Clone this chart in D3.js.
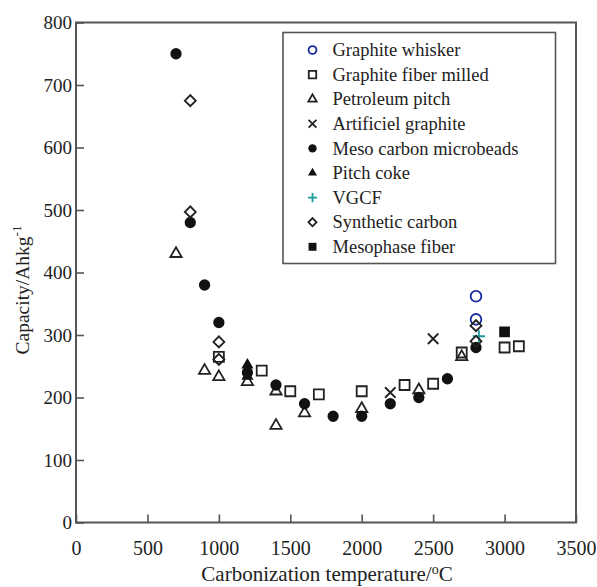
<!DOCTYPE html>
<html>
<head>
<meta charset="utf-8">
<script src="https://cdn.jsdelivr.net/npm/d3@7"></script>
<style>
  body { margin: 0; background: #fff; }
  svg text { font-family: "Liberation Serif", "Times New Roman", Times, "DejaVu Serif", serif; fill: #222; }
</style>
</head>
<body>
<div id="chart"></div>
<script>
// values: [temperature C, capacity Ah/kg]
const graphiteWhisker = [[2800, 362], [2800, 325]];
const graphiteFiberMilled = [[1000, 265], [1300, 243], [1500, 210], [1700, 205], [2000, 210],
  [2300, 220], [2500, 222], [2700, 272], [3000, 280], [3100, 282]];
const petroleumPitch = [[700, 430], [900, 243], [1000, 233], [1200, 225], [1400, 210], [1400, 155],
  [1600, 175], [2000, 182], [2400, 212], [2700, 265]];
const artificielGraphite = [[2200, 208], [2500, 294]];
const mesoCarbon = [[700, 750], [800, 480], [900, 380], [1000, 320], [1200, 240], [1400, 220],
  [1600, 190], [1800, 170], [2000, 170], [2200, 190], [2400, 200], [2600, 230], [2800, 280]];
const pitchCoke = [[1200, 252], [1200, 234]];
const vgcf = [[2820, 298]];
const syntheticCarbon = [[800, 675], [800, 497], [1000, 289], [1000, 261], [2800, 315], [2800, 290]];
const mesophaseFiber = [[3000, 305]];

const xTicks = [0, 500, 1000, 1500, 2000, 2500, 3000, 3500];
const yTicks = [0, 100, 200, 300, 400, 500, 600, 700, 800];

const serif = '"Liberation Serif", "Times New Roman", Times, "DejaVu Serif", serif';

const margin = { top: 22.5, right: 21, bottom: 64.5, left: 76 };
const width = 597 - margin.left - margin.right,
      height = 587 - margin.top - margin.bottom;

// extra symbol types drawn as strokes
const symTimes = {
  draw(ctx, size) {
    const r = Math.sqrt(size) / 2;
    ctx.moveTo(-r, -r); ctx.lineTo(r, r);
    ctx.moveTo(r, -r); ctx.lineTo(-r, r);
  }
};
const symPlus = {
  draw(ctx, size) {
    const r = Math.sqrt(size) / 2;
    ctx.moveTo(-r, 0); ctx.lineTo(r, 0);
    ctx.moveTo(0, -r); ctx.lineTo(0, r);
  }
};

const series = [
  { name: 'Graphite whisker', data: graphiteWhisker, type: d3.symbolCircle, size: 90, fill: 'none', stroke: '#1d2a9c', rot: 0 },
  { name: 'Graphite fiber milled', data: graphiteFiberMilled, type: d3.symbolSquare, size: 100, fill: 'none', stroke: '#222', rot: 0 },
  { name: 'Petroleum pitch', data: petroleumPitch, type: d3.symbolTriangle, size: 55, fill: 'none', stroke: '#222', rot: 0 },
  { name: 'Artificiel graphite', data: artificielGraphite, type: symTimes, size: 110, fill: 'none', stroke: '#222', rot: 0 },
  { name: 'Meso carbon microbeads', data: mesoCarbon, type: d3.symbolCircle, size: 100, fill: '#111', stroke: 'none', rot: 0 },
  { name: 'Pitch coke', data: pitchCoke, type: d3.symbolTriangle, size: 65, fill: '#111', stroke: 'none', rot: 0 },
  { name: 'VGCF', data: vgcf, type: symPlus, size: 150, fill: 'none', stroke: '#1a9a9c', rot: 0 },
  { name: 'Synthetic carbon', data: syntheticCarbon, type: d3.symbolSquare, size: 60, fill: 'none', stroke: '#222', rot: 45 },
  { name: 'Mesophase fiber', data: mesophaseFiber, type: d3.symbolSquare, size: 115, fill: '#111', stroke: 'none', rot: 0 }
];

const xScale = d3.scaleLinear().domain([0, 3500]).range([0, width]);
const yScale = d3.scaleLinear().domain([0, 800]).range([height, 0]);

const svg = d3.select('#chart').append('svg')
  .attr('width', 597)
  .attr('height', 587);

const g = svg.append('g')
  .attr('transform', 'translate(' + margin.left + ',' + margin.top + ')');

const xAxis = d3.axisBottom(xScale).tickValues(xTicks).tickFormat(d3.format('d'))
  .tickSizeInner(-8).tickSizeOuter(0).tickPadding(18);
const yAxis = d3.axisLeft(yScale).tickValues(yTicks).tickFormat(d3.format('d'))
  .tickSizeInner(-8).tickSizeOuter(0).tickPadding(4);

g.append('g')
  .attr('transform', 'translate(0,' + height + ')')
  .call(xAxis)
  .call(a => a.select('.domain').remove())
  .call(a => a.selectAll('line').attr('stroke', '#555').attr('stroke-width', 1.6))
  .call(a => a.selectAll('text').attr('font-size', 20).attr('fill', '#222').attr('font-family', serif));

g.append('g')
  .call(yAxis)
  .call(a => a.select('.domain').remove())
  .call(a => a.selectAll('line').attr('stroke', '#555').attr('stroke-width', 1.6))
  .call(a => a.selectAll('text').attr('font-size', 19).attr('fill', '#222').attr('font-family', serif));

// plot frame
g.append('rect')
  .attr('width', width)
  .attr('height', height)
  .attr('fill', 'none')
  .attr('stroke', '#555')
  .attr('stroke-width', 2);

// markers
series.forEach(s => {
  const sym = d3.symbol().type(s.type).size(s.size);
  g.append('g').selectAll('path').data(s.data)
    .enter().append('path')
      .attr('d', sym)
      .attr('transform', d => 'translate(' + xScale(d[0]) + ',' + yScale(d[1]) + ') rotate(' + s.rot + ')')
      .attr('fill', s.fill)
      .attr('stroke', s.stroke)
      .attr('stroke-width', s.stroke === 'none' ? 0 : 1.8);
});

// legend
const legend = svg.append('g').attr('transform', 'translate(283,32.5)');
legend.append('rect')
  .attr('width', 272.5)
  .attr('height', 231)
  .attr('fill', '#fff')
  .attr('stroke', '#555')
  .attr('stroke-width', 1.6);

const rows = legend.selectAll('g.row').data(series)
  .enter().append('g')
    .attr('class', 'row')
    .attr('transform', (d, i) => 'translate(0,' + (17.5 + i * 24.6) + ')');

rows.append('path')
  .attr('d', d => d3.symbol().type(d.type).size(d.size * 0.55)())
  .attr('transform', d => 'translate(29.5,0) rotate(' + d.rot + ')')
  .attr('fill', d => d.fill)
  .attr('stroke', d => d.stroke)
  .attr('stroke-width', d => d.stroke === 'none' ? 0 : 1.8);

rows.append('text')
  .attr('x', 49.5)
  .attr('dy', '0.33em')
  .attr('font-size', 18.5)
  .attr('font-family', serif)
  .text(d => d.name);

// axis titles
const xTitle = svg.append('text')
  .attr('x', margin.left + width / 2 + 1)
  .attr('y', 581)
  .attr('text-anchor', 'middle')
  .attr('font-family', serif)
  .attr('font-size', 21);
xTitle.append('tspan').text('Carbonization temperature/');
xTitle.append('tspan').attr('font-size', 14).attr('dy', -7.5).text('o');
xTitle.append('tspan').attr('dy', 7.5).text('C');

const yTitle = svg.append('text')
  .attr('transform', 'translate(29,290) rotate(-90)')
  .attr('text-anchor', 'middle')
  .attr('font-family', serif)
  .attr('font-size', 19.5);
yTitle.append('tspan').text('Capacity/Ahkg');
yTitle.append('tspan').attr('font-size', 13).attr('dy', -8).text('-1');
</script>
</body>
</html>
